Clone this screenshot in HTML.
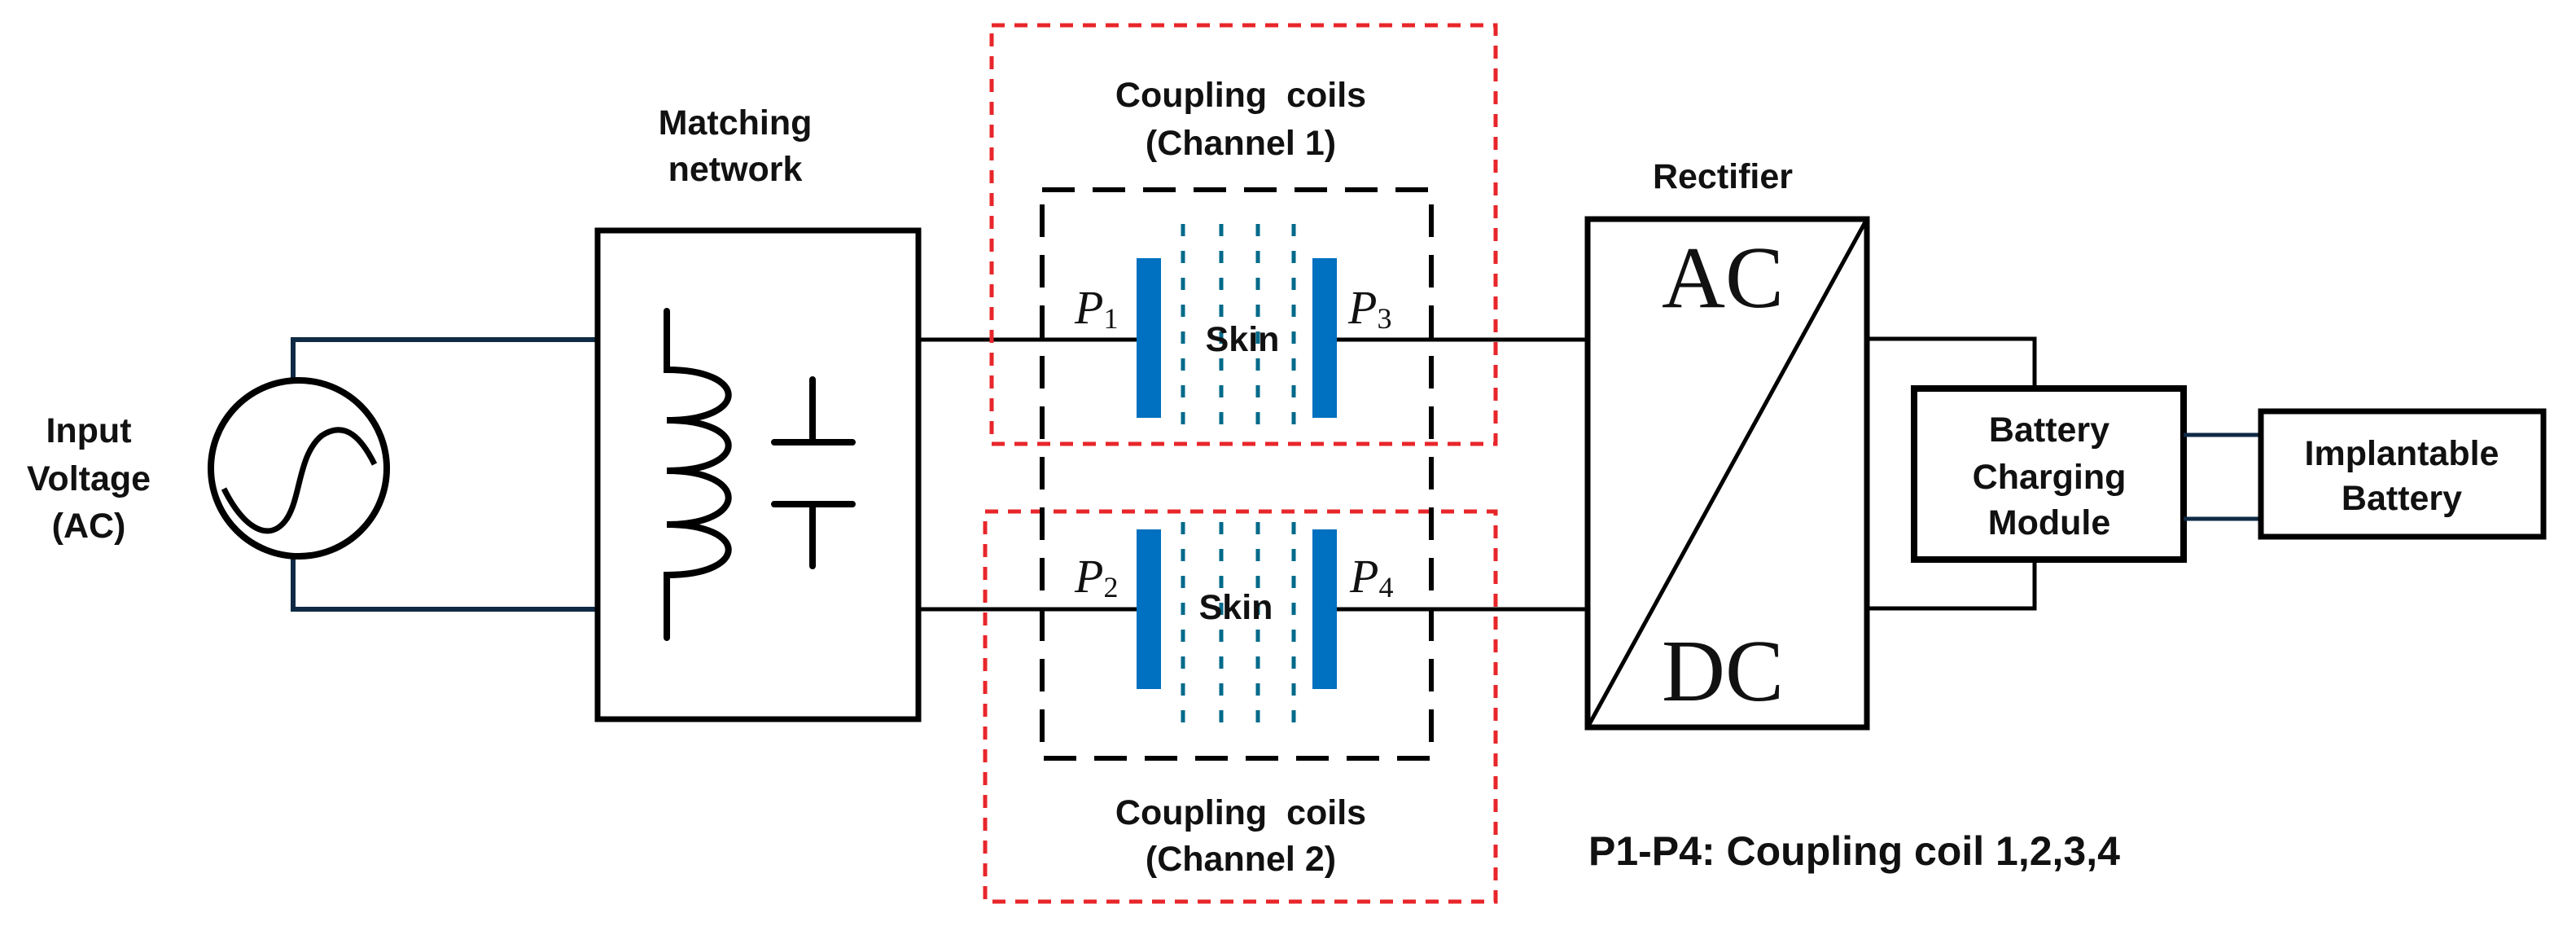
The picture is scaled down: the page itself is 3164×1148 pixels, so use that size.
<!DOCTYPE html>
<html><head><meta charset="utf-8"><style>
html,body{margin:0;padding:0;background:#fff;}
svg{display:block;}
.s{font-family:"Liberation Sans",sans-serif;font-weight:bold;font-size:43px;fill:#111;text-anchor:middle;}
.t{font-family:"Liberation Serif",serif;font-style:italic;font-size:58px;fill:#111;}
.sub{font-family:"Liberation Serif",serif;font-style:normal;font-size:36px;}
</style></head><body>
<svg width="3164" height="1148" viewBox="0 0 3164 1148" xmlns="http://www.w3.org/2000/svg">
<g fill="none" stroke-width="6">
<path d="M360 465 V417 H734 M360 684 V748 H734" stroke="#0f2a44"/>
<circle cx="367" cy="575" r="108" stroke="#000" stroke-width="8"/>
<path d="M275 600 C300 650 330 665 350 640 C370 615 365 560 395 535 C425 515 445 540 460 570" stroke="#000" stroke-width="7"/>
</g>
<text class="s" x="109" y="543">Input</text>
<text class="s" x="109" y="602">Voltage</text>
<text class="s" x="109" y="660">(AC)</text>
<text class="s" x="903" y="165">Matching</text>
<text class="s" x="903" y="222">network</text>
<rect x="734" y="283" width="394" height="600" fill="none" stroke="#000" stroke-width="7"/>
<path d="M819 382 V454 C920 454 920 516 819 516 C920 516 920 578 819 578 C920 578 920 644 819 644 C920 644 920 706 819 706 V783" fill="none" stroke="#000" stroke-width="8" stroke-linecap="round"/>
<path d="M951 543 H1047 M951 619 H1047 M998 466 V543 M998 619 V695" fill="none" stroke="#000" stroke-width="8" stroke-linecap="round"/>
<path d="M1128 417 H1396 M1128 748 H1396 M1642 417 H1950 M1642 748 H1950" stroke="#000" stroke-width="5"/>
<rect x="1218" y="31" width="619" height="514" fill="none" stroke="#e8262a" stroke-width="5" stroke-dasharray="16 12"/>
<rect x="1210" y="628" width="627" height="479" fill="none" stroke="#e8262a" stroke-width="5" stroke-dasharray="16 12"/>
<rect x="1280" y="233" width="478" height="698" fill="none" stroke="#000" stroke-width="6" stroke-dasharray="40 22"/>
<g fill="#0070c0">
<rect x="1396" y="317" width="30" height="196"/><rect x="1612" y="317" width="30" height="196"/>
<rect x="1396" y="650" width="30" height="196"/><rect x="1612" y="650" width="30" height="196"/>
</g>
<g stroke="#006a8a" stroke-width="5" stroke-dasharray="15 18">
<path d="M1453 275 V527 M1500 275 V527 M1545 275 V527 M1589 275 V527"/>
<path d="M1453 641 V895 M1500 641 V895 M1545 641 V895 M1589 641 V895"/>
</g>
<text class="s" x="1526" y="431">Skin</text>
<text class="s" x="1518" y="760">Skin</text>
<text class="t" x="1320" y="397">P<tspan class="sub" dy="6">1</tspan></text>
<text class="t" x="1656" y="397">P<tspan class="sub" dy="6">3</tspan></text>
<text class="t" x="1320" y="727">P<tspan class="sub" dy="6">2</tspan></text>
<text class="t" x="1658" y="727">P<tspan class="sub" dy="6">4</tspan></text>
<text class="s" x="1524" y="131">Coupling&#160; coils</text>
<text class="s" x="1524" y="190">(Channel 1)</text>
<text class="s" x="1524" y="1012">Coupling&#160; coils</text>
<text class="s" x="1524" y="1069">(Channel 2)</text>
<text class="s" x="2116" y="231">Rectifier</text>
<rect x="1950" y="269" width="343" height="624" fill="none" stroke="#000" stroke-width="7"/>
<path d="M1950 893 L2293 269" stroke="#000" stroke-width="5"/>
<text x="2041" y="377" style="font-family:'Liberation Serif',serif;font-size:108px;fill:#111">AC</text>
<text x="2041" y="860" style="font-family:'Liberation Serif',serif;font-size:108px;fill:#111">DC</text>
<path d="M2293 416 H2499 V477 M2293 747 H2499 V687" fill="none" stroke="#000" stroke-width="5"/>
<rect x="2351" y="477" width="331" height="210" fill="none" stroke="#000" stroke-width="8"/>
<text class="s" x="2517" y="542">Battery</text>
<text class="s" x="2517" y="600">Charging</text>
<text class="s" x="2517" y="656">Module</text>
<path d="M2682 534 H2777 M2682 637 H2777" stroke="#0f2a44" stroke-width="5"/>
<rect x="2777" y="505" width="347" height="154" fill="none" stroke="#000" stroke-width="7"/>
<text class="s" x="2950" y="571">Implantable</text>
<text class="s" x="2950" y="626">Battery</text>
<text x="1951" y="1062" style="font-family:'Liberation Sans',sans-serif;font-weight:bold;font-size:50px;fill:#111">P1-P4: Coupling coil 1,2,3,4</text>
</svg>
</body></html>
